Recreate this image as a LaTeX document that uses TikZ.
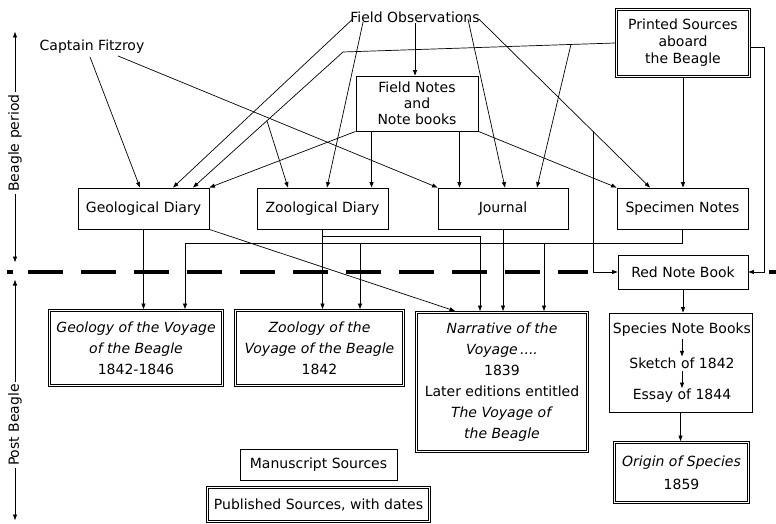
\documentclass[tikz,border=0pt]{standalone}
\usepackage{fontspec}
\setmainfont{DejaVu Sans}
\usetikzlibrary{arrows.meta,calc}
\begin{document}
\begin{tikzpicture}[x=1pt,y=-1pt,
  every node/.style={inner sep=0pt},
  txt/.style={font=\fontsize{14}{17}\selectfont},
  box/.style={draw, line width=0.9pt, fill=white, align=center, font=\fontsize{14}{17}\selectfont},
  pub/.style={draw, line width=0.8pt, double, double distance=1.4pt, outer sep=1.5pt, fill=white, align=center, font=\fontsize{14}{21}\selectfont},
  conn/.style={line width=0.7pt, -{Triangle[length=5.5pt,width=4pt]}},
  ln/.style={line width=0.7pt},
  divider/.style={line width=3.5pt}
]
\useasboundingbox (0,0) rectangle (776,524);

% ---- nodes ----
\node[txt] (fo) at (415,17) {Field Observations};
\node[txt] (cf) at (92,47) {Captain Fitzroy};
\node[pub, minimum width=133pt, minimum height=67pt, font=\fontsize{14}{17}\selectfont] (ps) at (683,43) {Printed Sources\\aboard\\the Beagle};
\node[box, minimum width=122pt, minimum height=55pt, font=\fontsize{14}{16}\selectfont] (fn) at (417,103.5) {Field Notes\\and\\Note books};

\node[box, minimum width=131pt, minimum height=41pt] (gd) at (143.5,208.5) {Geological Diary};
\node[box, minimum width=131pt, minimum height=41pt] (zd) at (322.5,208.5) {Zoological Diary};
\node[box, minimum width=130pt, minimum height=41pt] (jn) at (503,208.5) {Journal};
\node[box, minimum width=131pt, minimum height=41pt] (sn) at (682.5,208.5) {Specimen Notes};

\node[box, minimum width=130pt, minimum height=34pt] (rnb) at (683,272) {Red Note Book};

\node[pub, minimum width=173pt, minimum height=75pt] (geo) at (136,348) {\textit{Geology of the Voyage}\\\textit{of the Beagle}\\1842-1846};
\node[pub, minimum width=168pt, minimum height=75pt] (zoo) at (319.5,348) {\textit{Zoology of the}\\\textit{Voyage of the Beagle}\\1842};
\node[pub, minimum width=171pt, minimum height=139pt] (nar) at (502,382) {\textit{Narrative of the}\\\textit{Voyage\,....}\\1839\\Later editions entitled\\\textit{The Voyage of}\\\textit{the Beagle}};

\node[box, minimum width=143pt, minimum height=99pt] (snb) at (680.5,362.5) {};
\node[txt] (s1) at (682,330) {Species Note Books};
\node[txt] (s2) at (682,363) {Sketch of 1842};
\node[txt] (s3) at (682,396) {Essay of 1844};

\node[pub, minimum width=134pt, minimum height=60pt, font=\fontsize{14}{23}\selectfont] (og) at (681.5,472.5) {\textit{Origin of Species}\\1859};

\node[box, minimum width=157pt, minimum height=31pt] (ms) at (318.5,464.5) {Manuscript Sources};
\node[pub, minimum width=222pt, minimum height=34pt, font=\fontsize{14}{17}\selectfont] (pub) at (318.5,504.5) {Published Sources, with dates};

% ---- period axis ----
\node[txt, rotate=90, inner sep=2pt] (bp) at (15,143) {Beagle period};
\node[txt, rotate=90, inner sep=2pt] (pb) at (15,425) {Post Beagle};
\coordinate (bpt) at (15,32);
\coordinate (bpb) at (15,262);
\coordinate (pbt) at (15,280);
\coordinate (pbb) at (15,520);
\draw[conn] (bp.east) -- (bpt);
\draw[conn] (bp.west) -- (bpb);
\draw[conn] (pb.east) -- (pbt);
\draw[conn] (pb.west) -- (pbb);

% ---- divider ----
\coordinate (dl) at (28,272);
\coordinate (dr) at (588,272);
\draw[divider, dash pattern=on 35pt off 18pt] (dl) -- (dr);
\coordinate (dl0) at (7,272);
\coordinate (dl1) at (13,272);
\draw[divider] (dl0) -- (dl1);
\coordinate (dr0) at (769,272);
\coordinate (dr1) at (776,272);
\draw[divider] (dr0) -- (dr1);

% ---- Field Observations ----
\draw[conn] ($(fo.south west)+(3,-4)$) -- ($(gd.north)+(29.5,0)$);
\draw[conn] ($(fo.south west)+(13,-1)$) -- ($(zd.north)+(4.5,0)$);
\draw[conn] (fo.south) -- (fo.south |- fn.north);
\draw[conn] ($(fo.south east)+(-12,-4)$) -- ($(jn.north)+(2,0)$);
\coordinate (foS) at ($(fo.east)+(-1,2)$);
\coordinate (snT) at ($(sn.north)+(-32.5,0)$);
\draw[conn] (foS) -- (snT);
\draw[conn] ($(foS)!0.667!(snT)$) |- (rnb.west);

% ---- Printed Sources ----
\coordinate (c1) at (343,52);
\coordinate (gdT2) at ($(gd.north)+(49.5,0)$);
\draw[ln] (ps.west) -- (c1);
\draw[conn] (c1) -- (gdT2);
\draw[conn] ($(ps.west)!0.162!(c1)$) -- ($(jn.north)+(34,0)$);
\draw[conn] ($(c1)!0.507!(gdT2)$) -- ($(zd.north)+(-34.5,0)$);
\draw[conn] ($(ps.east)+(0,4)$) -- ++(13,0) |- (rnb.east);
\draw[conn] (ps.south) -- (ps.south |- sn.north);

% ---- Field Notes ----
\draw[conn] (fn.south west) -- (gd.north east);
\path (fn.south west) ++(16,0) coordinate (fn1);
\draw[conn] (fn1) -- (fn1 |- zd.north);
\path (fn.south east) ++(-19,0) coordinate (fn2);
\draw[conn] (fn2) -- (fn2 |- jn.north);
\draw[conn] (fn.south east) -- (sn.north west);

% ---- Captain Fitzroy ----
\draw[conn] ($(cf.south)+(-2,3)$) -- ($(gd.north)+(-3.5,0)$);
\draw[conn] ($(cf.south)+(26,2)$) -- (jn.north west);

% ---- Geological Diary ----
\draw[conn] (gd.south) -- (gd.south |- geo.north);
\draw[conn] (gd.south east) -- ($(nar.north west)+(40,0)$);

% ---- Zoological Diary ----
\draw[conn] (zd.south) -- (zd.south |- zoo.north);
\draw[conn] ($(zd.south)+(0,7)$) -| ($(nar.north west)+(65,0)$);

% ---- Journal ----
\draw[conn] (jn.south) -- (jn.south |- nar.north);

% ---- Specimen Notes ----
\coordinate (hb) at ($(sn.south)+(0,14)$);
\draw[ln] (sn.south) -- (hb);
\draw[conn] (hb) -| ($(geo.north)+(49,0)$);
\path (zoo.north) ++(40.5,0) coordinate (zt);
\draw[conn] (zt |- hb) -- (zt);
\path (nar.north) ++(42,0) coordinate (nt);
\draw[conn] (nt |- hb) -- (nt);

% ---- Red Note Book and after ----
\draw[conn] (rnb.south) -- (rnb.south |- snb.north);
\draw[conn, shorten <=2pt, shorten >=1pt] (s1.south) -- (s2.north);
\draw[conn, shorten <=2pt, shorten >=1pt] (s2.south) -- (s3.north);
\draw[conn] (snb.south) -- (snb.south |- og.north);
\end{tikzpicture}
\end{document}
